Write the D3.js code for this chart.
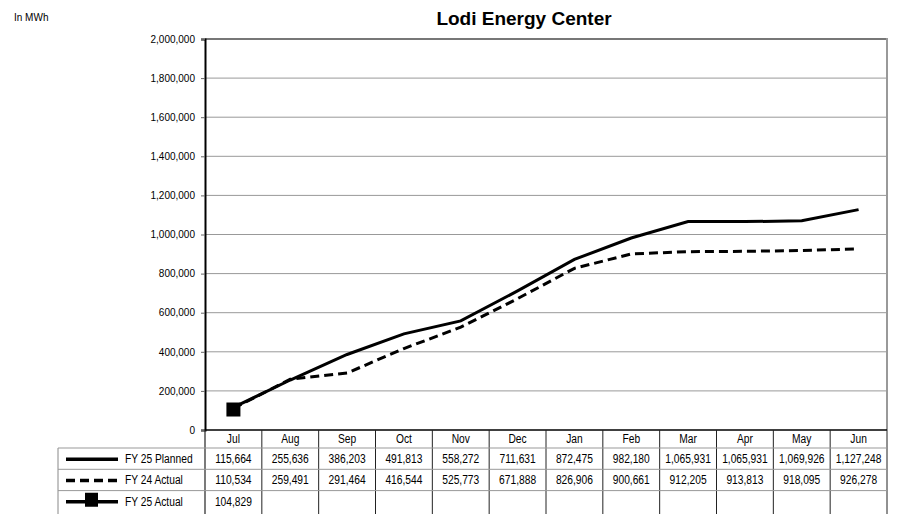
<!DOCTYPE html>
<html>
<head>
<meta charset="utf-8">
<script src="https://cdn.jsdelivr.net/npm/d3@7"></script>
<style>
  body { margin: 0; background: #fff; }
  svg { display: block; }
  .tick text { font-family: "Liberation Sans", Arial, sans-serif; font-size: 10px; fill: #000; }
  .cell { font-family: "Liberation Sans", Arial, sans-serif; font-size: 12.5px; fill: #000; }
</style>
</head>
<body>
<svg id="chart" width="900" height="514"></svg>
<script>
// chart data
var months = ["Jul", "Aug", "Sep", "Oct", "Nov", "Dec", "Jan", "Feb", "Mar", "Apr", "May", "Jun"]
var planned25 = [115664, 255636, 386203, 491813, 558272, 711631, 872475, 982180, 1065931, 1065931, 1069926, 1127248]
var actual24 = [110534, 259491, 291464, 416544, 525773, 671888, 826906, 900661, 912205, 913813, 918095, 926278]
var actual25 = [104829]
var seriesNames = ["FY 25 Planned", "FY 24 Actual", "FY 25 Actual"]
var yTicks = [0, 200000, 400000, 600000, 800000, 1000000, 1200000, 1400000, 1600000, 1800000, 2000000]

var plot = {left: 205, right: 887, top: 39, bottom: 430}
var tableLeft = 58
var headerH = 18
var rowH = 21.3
var narrow = 0.82   // squeeze table text to look like a narrow face

var svg = d3.select("#chart")
var fmt = d3.format(",")

var x = d3.scaleBand().domain(months).range([plot.left, plot.right])
var y = d3.scaleLinear().domain([0, 2000000]).range([plot.bottom, plot.top])
var cx = function (m) { return x(m) + x.bandwidth() / 2 }

// text squeezed horizontally around its anchor point
function cellText(g, tx, ty, str, anchor) {
    return g.append("text")
        .attr("class", "cell")
        .attr("transform", "translate(" + tx + "," + ty + ") scale(" + narrow + ",1)")
        .attr("text-anchor", anchor || "middle")
        .text(str)
}

// titles
svg.append("text")
    .attr("x", 14).attr("y", 21)
    .style("font-family", "Liberation Sans, Arial, sans-serif")
    .style("font-size", "10px")
    .text("In MWh")

svg.append("text")
    .attr("x", 524).attr("y", 25)
    .attr("text-anchor", "middle")
    .style("font-family", "Liberation Sans, Arial, sans-serif")
    .style("font-size", "19px")
    .style("font-weight", "bold")
    .text("Lodi Energy Center")

// gridlines
svg.append("g").selectAll("line")
    .data(yTicks.filter(function (d) { return d > 0 }))
    .enter().append("line")
    .attr("x1", plot.left).attr("x2", plot.right)
    .attr("y1", function (d) { return y(d) }).attr("y2", function (d) { return y(d) })
    .attr("stroke", function (d) { return d == 2000000 ? "#777" : "#999" })
    .attr("stroke-width", function (d) { return d == 2000000 ? 2 : 1 })

// right border
svg.append("line")
    .attr("x1", plot.right).attr("x2", plot.right)
    .attr("y1", plot.top - 1).attr("y2", plot.bottom)
    .attr("stroke", "#999").attr("stroke-width", 2)

// y axis
var yAxis = svg.append("g")
    .attr("transform", "translate(" + plot.left + ",0)")
    .call(d3.axisLeft(y).tickValues(yTicks).tickFormat(fmt).tickSize(4).tickPadding(6))
yAxis.select(".domain").attr("stroke", "#000").attr("stroke-width", 2)
yAxis.selectAll(".tick line").attr("stroke", "#666")

// zero line
svg.append("line")
    .attr("x1", plot.left).attr("x2", plot.right)
    .attr("y1", plot.bottom).attr("y2", plot.bottom)
    .attr("stroke", "#000").attr("stroke-width", 1.5)

// data table
var rowsTop = plot.bottom + headerH
var tableBottom = rowsTop + rowH * 3
var table = svg.append("g")

// vertical lines between months
table.selectAll(".vline")
    .data(months.slice(1))
    .enter().append("line")
    .attr("x1", function (m) { return x(m) }).attr("x2", function (m) { return x(m) })
    .attr("y1", plot.bottom).attr("y2", tableBottom + 4)
    .attr("stroke", "#222").attr("stroke-width", 1)
table.append("line")
    .attr("x1", plot.left).attr("x2", plot.left)
    .attr("y1", plot.bottom).attr("y2", tableBottom + 4)
    .attr("stroke", "#222").attr("stroke-width", 1.2)
table.append("line")
    .attr("x1", plot.right).attr("x2", plot.right)
    .attr("y1", plot.bottom).attr("y2", tableBottom + 4)
    .attr("stroke", "#222").attr("stroke-width", 1)
table.append("line")
    .attr("x1", tableLeft).attr("x2", tableLeft)
    .attr("y1", rowsTop).attr("y2", tableBottom + 4)
    .attr("stroke", "#888").attr("stroke-width", 1)

// horizontal lines
table.selectAll(".hline")
    .data([0, 1, 2])
    .enter().append("line")
    .attr("x1", tableLeft).attr("x2", plot.right)
    .attr("y1", function (i) { return rowsTop + i * rowH }).attr("y2", function (i) { return rowsTop + i * rowH })
    .attr("stroke", "#999").attr("stroke-width", 1)

// month labels
months.forEach(function (m) {
    cellText(table, cx(m), plot.bottom + 13, m)
})

var rowData = [planned25, actual24, actual25]
rowData.forEach(function (vals, r) {
    vals.forEach(function (d, i) {
        cellText(table, cx(months[i]), rowsTop + r * rowH + 15, fmt(d))
    })

    var ly = rowsTop + r * rowH + rowH / 2 + 0.5
    var sample = table.append("line")
        .attr("x1", 66).attr("x2", 118)
        .attr("y1", ly).attr("y2", ly)
        .attr("stroke", "#000").attr("stroke-width", 3.5)
    if (r == 1) sample.attr("stroke-dasharray", "9,5")
    if (r == 2) {
        table.append("rect")
            .attr("x", 85).attr("y", ly - 9).attr("width", 13).attr("height", 14)
            .attr("fill", "#000")
    }
    cellText(table, 125, rowsTop + r * rowH + 15, seriesNames[r], "start")
})

// lines
var line = d3.line()
    .x(function (d, i) { return cx(months[i]) })
    .y(function (d) { return y(d) })

svg.append("path")
    .datum(actual24)
    .attr("fill", "none").attr("stroke", "#000")
    .attr("stroke-width", 3).attr("stroke-dasharray", "9,5")
    .attr("d", line)

svg.append("path")
    .datum(planned25)
    .attr("fill", "none").attr("stroke", "#000")
    .attr("stroke-width", 3)
    .attr("d", line)

svg.selectAll(".marker")
    .data(actual25)
    .enter().append("rect")
    .attr("x", function (d, i) { return cx(months[i]) - 7 })
    .attr("y", function (d) { return y(d) - 7 })
    .attr("width", 14).attr("height", 14)
    .attr("fill", "#000")
</script>
</body>
</html>
